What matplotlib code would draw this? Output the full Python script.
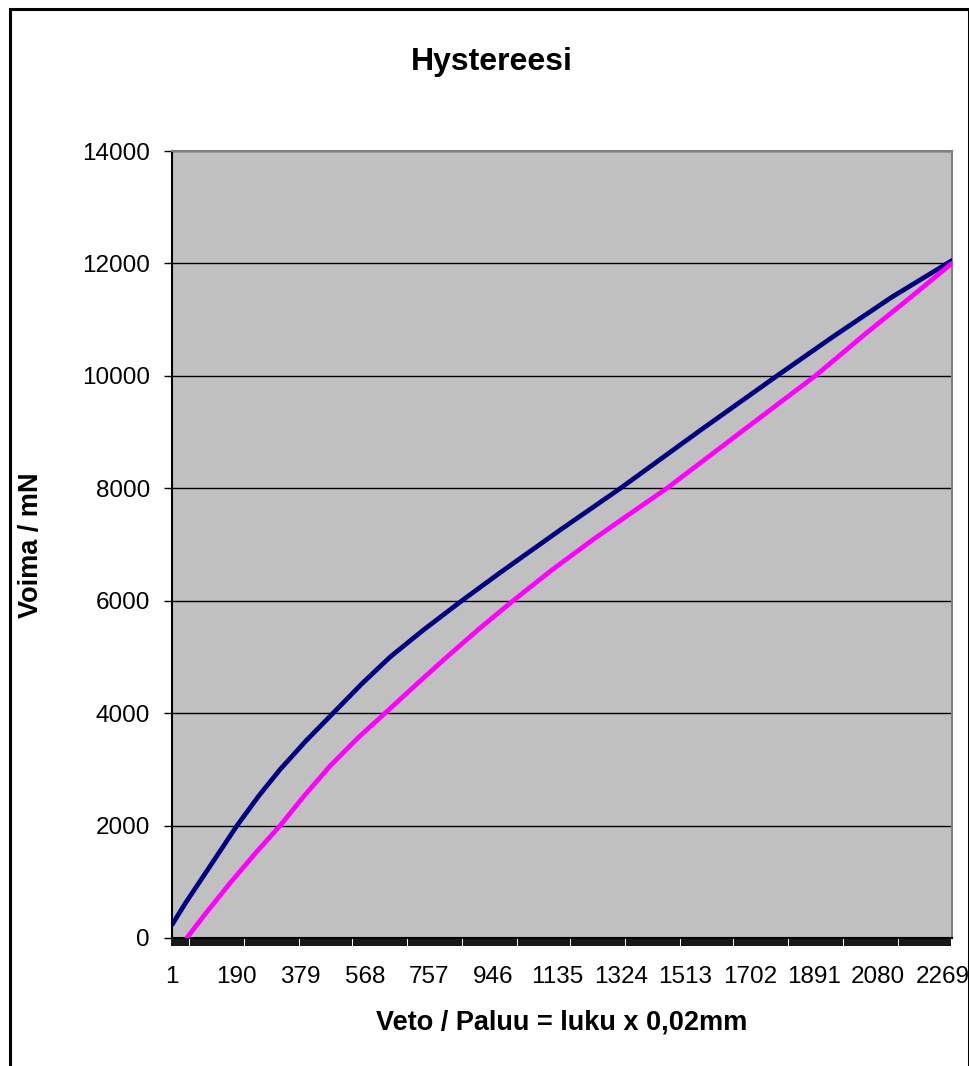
import matplotlib
matplotlib.use("Agg")
import matplotlib.pyplot as plt
from matplotlib.patches import Rectangle
import numpy as np

plt.rcParams['font.family'] = ['Liberation Sans', 'DejaVu Sans']

## Data (x = running sample number, y = force in mN)
n_points = 2297
veto_x = [1, 40, 93, 192, 255, 319, 397, 475, 559, 643, 741, 854, 967, 1144, 1321, 1556, 1782, 1948, 2120, 2297]
veto_y = [240, 620, 1100, 2000, 2520, 3000, 3520, 4000, 4520, 5000, 5480, 6000, 6500, 7260, 8000, 9030, 10000, 10700, 11400, 12050]
paluu_x = [44, 100, 172, 245, 319, 390, 466, 548, 628, 720, 810, 905, 1005, 1120, 1241, 1350, 1458, 1676, 1895, 2047, 2170, 2297]
paluu_y = [0, 440, 980, 1500, 2000, 2530, 3060, 3560, 4000, 4510, 5000, 5500, 6000, 6550, 7090, 7550, 8000, 9000, 10000, 10770, 11370, 12000]
x_labels = [1, 190, 379, 568, 757, 946, 1135, 1324, 1513, 1702, 1891, 2080, 2269]
y_ticks = [0, 2000, 4000, 6000, 8000, 10000, 12000, 14000]

W, H = 970, 1066
fig = plt.figure(figsize=(W/100, H/100), dpi=100)
ax = fig.add_axes([172/W, 1-938/H, (952-172)/W, (938-151)/H])

ax.set_facecolor('#C0C0C0')
ax.plot(veto_x, veto_y, color='#000080', lw=3.4, solid_capstyle='round', solid_joinstyle='round', zorder=3)
ax.plot(paluu_x, paluu_y, color='#FF00FF', lw=3.4, solid_capstyle='round', solid_joinstyle='round', zorder=3)

ax.set_xlim(0.5, n_points + 0.5)
ax.set_ylim(0, 14000)

# y axis
ax.set_yticks(y_ticks)
ax.set_yticklabels([str(v) for v in y_ticks])
ax.yaxis.grid(True, color='black', lw=1)
ax.set_axisbelow(True)
ax.tick_params(axis='y', direction='out', length=6, width=1, pad=10, labelsize=17.5, color='black')

# x axis: category labels + the dense category ticks
ax.xaxis.remove_overlapping_locs = False
ax.set_xticks(x_labels)
ax.set_xticklabels([str(v) for v in x_labels])
ax.set_xticks(np.arange(1, n_points + 1, 6), minor=True)
ax.tick_params(axis='x', which='major', length=0, pad=20, labelsize=17.5)
ax.tick_params(axis='x', which='minor', direction='out', length=6, width=1.3, color='black')

for side in ['top', 'right']:
    ax.spines[side].set_color('#808080')
    ax.spines[side].set_linewidth(1.5)
for side in ['left', 'bottom']:
    ax.spines[side].set_color('black')
    ax.spines[side].set_linewidth(1.5)

fig.text(492/W, 1-62/H, 'Hystereesi', ha='center', va='center', fontsize=23, fontweight='bold')
fig.text(31/W, 1-545/H, 'Voima / mN', ha='center', va='center', rotation=90,
         fontsize=19.5, fontweight='bold')
fig.text(562/W, 1-1022/H, 'Veto / Paluu = luku x 0,02mm', ha='center', va='center',
         fontsize=19.5, fontweight='bold')

# outer chart border (runs off the bottom of the picture)
fig.patches.append(Rectangle((10/W, -0.02), (969-10)/W, 1.02 - 9/H,
                             transform=fig.transFigure, fill=False,
                             edgecolor='black', lw=2.2))

fig.savefig('out.png', dpi=100)
